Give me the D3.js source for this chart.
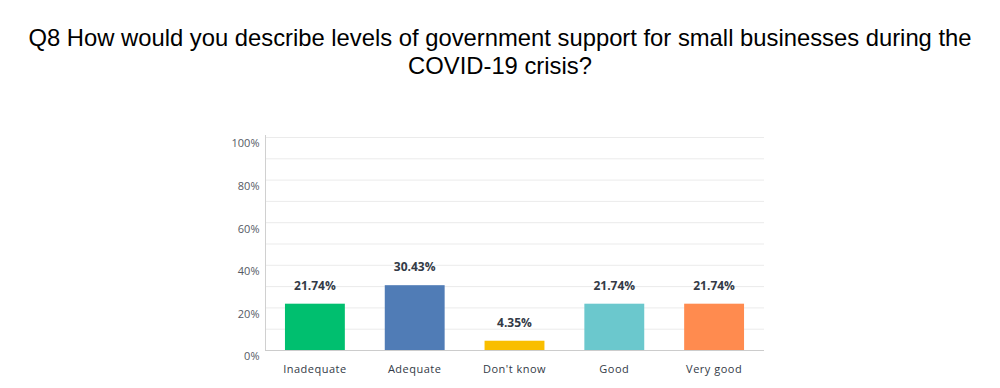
<!DOCTYPE html>
<html>
<head>
<meta charset="utf-8">
<script src="https://cdn.jsdelivr.net/npm/d3@7"></script>
<style>
  body { margin: 0; background: #fff; }
  svg { display: block; }
</style>
</head>
<body>
<div id="wrapper"></div>
<script>
// data
const categories = ["Inadequate", "Adequate", "Don't know", "Good", "Very good"]
const values = [21.74, 30.43, 4.35, 21.74, 21.74]
const colors = ["#00bf6f", "#507cb6", "#f9be00", "#6bc8cd", "#ff8b4f"]
const yTicks = [0, 20, 40, 60, 80, 100]
const titleLines = [
    "Q8 How would you describe levels of government support for small businesses during the",
    "COVID-19 crisis?"
]

const dataset = categories.map((c, i) => ({ name: c, value: values[i], color: colors[i] }))

// dimensions
let dimensions = {
    width: 1000,
    height: 388,
    margin: { top: 137, right: 236, bottom: 38, left: 265 },
}
dimensions.boundedWidth = dimensions.width - dimensions.margin.left - dimensions.margin.right
dimensions.boundedHeight = dimensions.height - dimensions.margin.top - dimensions.margin.bottom

const wrapper = d3.select("#wrapper")
    .append("svg")
    .attr("width", dimensions.width)
    .attr("height", dimensions.height)

// title
wrapper.append("g")
    .selectAll("text")
    .data(titleLines)
    .join("text")
    .attr("x", dimensions.width / 2)
    .attr("y", (d, i) => 46 + i * 28)
    .attr("text-anchor", "middle")
    .style("font-family", "'Liberation Sans', Arial, sans-serif")
    .style("font-size", "23.8px")
    .attr("fill", "#000")
    .text(d => d)

const bounds = wrapper.append("g")
    .attr("transform", `translate(${dimensions.margin.left},${dimensions.margin.top})`)

// scales
const xScale = d3.scaleBand()
    .domain(categories)
    .range([0, dimensions.boundedWidth])
    .paddingInner(0.4)
    .paddingOuter(0.2)

const yScale = d3.scaleLinear()
    .domain([0, 100])
    .range([dimensions.boundedHeight, 0])

// gridlines every 10%
bounds.append("g")
    .selectAll("line")
    .data(d3.range(10, 101, 10))
    .join("line")
    .attr("x1", 0)
    .attr("x2", dimensions.boundedWidth)
    .attr("y1", d => yScale(d) + 0.5)
    .attr("y2", d => yScale(d) + 0.5)
    .attr("stroke", "#ebebeb")
    .attr("stroke-width", 1)

// y axis
const yAxis = bounds.append("g")
    .attr("transform", "translate(0.5,0)")
    .call(d3.axisLeft(yScale).tickValues(yTicks).tickFormat(d => d + "%").tickSize(0).tickPadding(6))
yAxis.select(".domain").attr("stroke", "#d0d0d0").attr("d", `M0,${yScale(100) - 2}V${dimensions.boundedHeight}`)
yAxis.selectAll("text")
    .attr("dy", "0.9em")
    .style("font-family", "'Open Sans', sans-serif")
    .style("font-size", "11px")
    .attr("fill", "#555a64")

// bars
bounds.selectAll("rect.bar")
    .data(dataset)
    .join("rect")
    .attr("class", "bar")
    .attr("x", d => xScale(d.name))
    .attr("y", d => yScale(d.value))
    .attr("width", xScale.bandwidth())
    .attr("height", d => dimensions.boundedHeight - yScale(d.value))
    .attr("fill", d => d.color)

// value labels
bounds.selectAll("text.val")
    .data(dataset)
    .join("text")
    .attr("class", "val")
    .attr("x", d => xScale(d.name) + xScale.bandwidth() / 2)
    .attr("y", d => yScale(d.value) - 14)
    .attr("text-anchor", "middle")
    .style("font-family", "'Open Sans', sans-serif")
    .style("font-size", "12px")
    .style("font-weight", "bold")
    .attr("fill", "#333a46")
    .text(d => d.value.toFixed(2) + "%")

// x axis
const xAxis = bounds.append("g")
    .attr("transform", `translate(0,${dimensions.boundedHeight})`)
    .call(d3.axisBottom(xScale).tickSize(0).tickPadding(15))
xAxis.select(".domain").attr("stroke", "#cccccc").attr("d", `M0,0.5H${dimensions.boundedWidth}`)
xAxis.selectAll("text")
    .style("font-family", "'Open Sans', sans-serif")
    .style("font-size", "11px")
    .style("letter-spacing", "0.5px")
    .attr("fill", "#333a46")
</script>
</body>
</html>
